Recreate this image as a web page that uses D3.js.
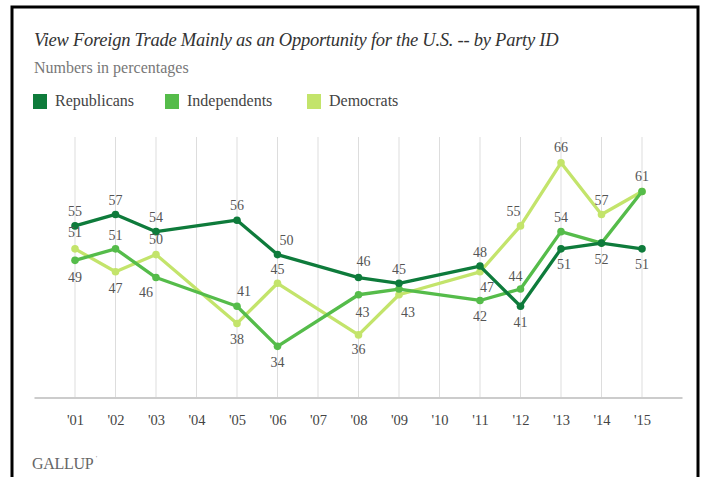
<!DOCTYPE html>
<html><head><meta charset="utf-8">
<script src="https://cdn.jsdelivr.net/npm/d3@7"></script>
<style>
html,body{margin:0;padding:0;background:#fff;}
svg text{font-family:"Liberation Serif","DejaVu Serif",serif;}
</style></head>
<body><svg id="c" width="704" height="477"></svg>
<script>
// ---- data ----
const years = [2001,2002,2003,2004,2005,2006,2007,2008,2009,2010,2011,2012,2013,2014,2015];
const tickLabels = ["'01","'02","'03","'04","'05","'06","'07","'08","'09","'10","'11","'12","'13","'14","'15"];
const republicans  = [55,57,54,null,56,50,null,46,45,null,48,41,51,52,51];
const independents = [49,51,46,null,41,34,null,43,44,null,42,44,54,52,61];
const democrats    = [51,47,50,null,38,45,null,36,43,null,47,55,66,57,61];
const seriesNames  = ["Republicans","Independents","Democrats"];
const seriesColors = ["#0e7b3b","#55bc4a","#c3e46b"];
// label placement [dx, dy] per point (null = no label)
const repLabelPos = [[0,-14],[0,-14],[0,-14],null,[0,-15],[9,-14],null,[5,-16],[0,-14],null,[0,-14],[0,16],[3,16],[0,16],[0,16]];
const indLabelPos = [[0,17],[0,-13],[-10,15],null,[7,-15],[0,16],null,[4,18],null,null,[0,16],[-5,-13],[0,-14],null,null];
const demLabelPos = [[0,-16],[0,17],[0,-15],null,[0,16],[0,-14],null,[0,15],[9,18],null,[7,16],[-7,-14],[0,-15],[0,-14],[0,-15]];

const svg = d3.select("#c");
const x = d3.scaleLinear().domain([2001,2015]).range([75,642]);
const y = d3.scaleLinear().domain([25,70.5]).range([398,137]);

// frame
svg.append("rect").attr("x",12).attr("y",7).attr("width",686).attr("height",490)
  .attr("fill","none").attr("stroke","#000").attr("stroke-width",3);

// title
svg.append("text").attr("x",34).attr("y",46).attr("fill","#333")
  .style("font-style","italic").style("font-size","18.5px").style("letter-spacing","-0.25px")
  .text("View Foreign Trade Mainly as an Opportunity for the U.S. -- by Party ID");
svg.append("text").attr("x",34).attr("y",73).attr("fill","#777")
  .style("font-size","16px").text("Numbers in percentages");

// legend
const legX = [33,165,307];
seriesNames.forEach((n,i)=>{
  svg.append("rect").attr("x",legX[i]).attr("y",94).attr("width",14).attr("height",15).attr("fill",seriesColors[i]);
  svg.append("text").attr("x",legX[i]+22).attr("y",106).attr("fill","#444")
    .style("font-size","16px").text(n);
});

// gridlines
svg.append("g").selectAll("line").data(years).join("line")
  .attr("x1",d=>x(d)).attr("x2",d=>x(d)).attr("y1",y(70.5)).attr("y2",y(25))
  .attr("stroke","#ddd").attr("stroke-width",1);

// x axis
const xAxis = d3.axisBottom(x).tickValues(years).tickSize(0).tickPadding(17)
  .tickFormat((d,i)=>tickLabels[i]);
const gx = svg.append("g").attr("transform",`translate(0,${y(25)})`).call(xAxis);
gx.select(".domain").remove();
gx.append("line").attr("x1",x(2000)).attr("x2",x(2016)).attr("y1",0).attr("y2",0)
  .attr("stroke","#ccc").attr("stroke-width",2);
gx.selectAll(".tick text").attr("fill","#444").style("font-size","14.5px")
  .style("font-family","'Liberation Serif',serif");

// series
const seriesData = [
  {vals:republicans,pos:repLabelPos,color:seriesColors[0]},
  {vals:independents,pos:indLabelPos,color:seriesColors[1]},
  {vals:democrats,pos:demLabelPos,color:seriesColors[2]}
];
const line = d3.line().x(d=>x(d.year)).y(d=>y(d.v));
const drawOrder = [2,1,0];
drawOrder.forEach(si=>{
  const s = seriesData[si];
  const pts = years.map((yr,i)=>({year:yr,v:s.vals[i],pos:s.pos[i]})).filter(d=>d.v!==null);
  svg.append("path").datum(pts).attr("d",line).attr("fill","none")
    .attr("stroke",s.color).attr("stroke-width",3.3).attr("stroke-linejoin","round");
  svg.append("g").selectAll("circle").data(pts).join("circle")
    .attr("cx",d=>x(d.year)).attr("cy",d=>y(d.v)).attr("r",3.8).attr("fill",s.color);
});
// labels on top
seriesData.forEach(s=>{
  const pts = years.map((yr,i)=>({year:yr,v:s.vals[i],pos:s.pos[i]})).filter(d=>d.v!==null && d.pos);
  svg.append("g").selectAll("text").data(pts).join("text")
    .attr("x",d=>x(d.year)+d.pos[0]).attr("y",d=>y(d.v)+d.pos[1])
    .attr("text-anchor","middle").attr("dominant-baseline","central")
    .attr("fill","#555").style("font-size","14px").text(d=>d.v);
});

// footer
svg.append("text").attr("x",32).attr("y",469).attr("fill","#666")
  .style("font-size","16px").style("letter-spacing","-0.3px").text("GALLUP");
svg.append("text").attr("x",96).attr("y",460).attr("fill","#666")
  .style("font-size","6px").text("'");
</script></body></html>
